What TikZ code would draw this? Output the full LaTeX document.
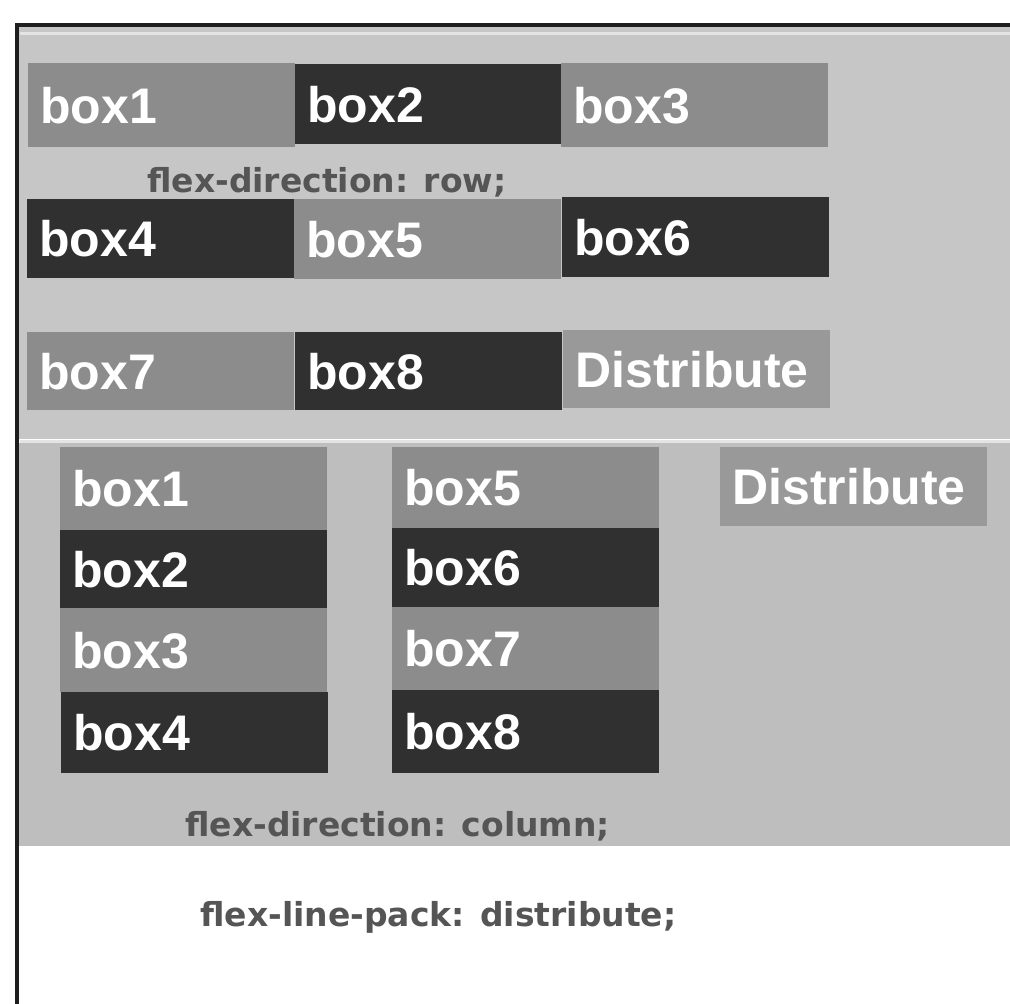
\documentclass[tikz,border=0pt]{standalone}
\usepackage{fontspec}
\setmainfont{Liberation Sans}
\newfontfamily\dvfont{DejaVu Sans}
\definecolor{pagebg}{HTML}{FFFFFF}
\definecolor{panelA}{HTML}{C6C6C6}
\definecolor{panelB}{HTML}{BEBEBE}
\definecolor{midgray}{HTML}{8C8C8C}
\definecolor{lightmid}{HTML}{999999}
\definecolor{darkgray}{HTML}{303030}
\definecolor{framec}{HTML}{1E1E1E}
\definecolor{sepc}{HTML}{E4E4E4}
\definecolor{lblc}{HTML}{555555}
\begin{document}
\begin{tikzpicture}[x=1pt,y=-1pt,
  anybox/.style={anchor=north west, inner xsep=12pt, inner ysep=0pt,
    minimum width=267pt, text width=243pt, align=left,
    text height=36pt, text depth=0pt, text=white,
    font=\fontsize{50}{50}\selectfont\bfseries},
  midbox/.style={anybox, fill=midgray},
  litbox/.style={anybox, fill=lightmid},
  darkbox/.style={anybox, fill=darkgray},
  lbl/.style={anchor=base west, inner sep=0pt, text=lblc,
    font=\dvfont\fontsize{33}{33}\selectfont\bfseries}]
\useasboundingbox (0,0) rectangle (1010,1004);
\fill[pagebg] (0,0) rectangle (1010,1004);
% panels
\fill[panelA] (18,27) rectangle (1010,439);
\fill[panelB] (18,443) rectangle (1010,846);
\draw[sepc, line width=3pt] (20,33) -- (1010,33);
\draw[sepc, line width=3pt] (20,441) -- (1010,441);
% frame
\draw[framec, line width=3.5pt] (17,1004) -- (17,25) -- (1010,25);
% row layout
\node[midbox, minimum height=84pt] (ra1) at (28,63) {box1};
\node[darkbox, minimum height=80pt] (ra2) at (295,64) {box2};
\node[midbox, minimum height=84pt] (ra3) at (561,63) {box3};
\node[lbl] (rowlbl) at (147,192) {flex-direction: row;};
\node[darkbox, minimum height=79pt] (ra4) at (27,199) {box4};
\node[midbox, minimum height=80pt] (ra5) at (294,199) {box5};
\node[darkbox, minimum height=80pt] (ra6) at (562,197) {box6};
\node[midbox, minimum height=78pt] (ra7) at (27,332) {box7};
\node[darkbox, minimum height=78pt] (ra8) at (295,332) {box8};
\node[litbox, minimum height=78pt] (ra9) at (563,330) {Distribute};
% column layout
\node[midbox, minimum height=83pt] (cb1) at (60,447) {box1};
\node[darkbox, minimum height=78pt] (cb2) at (60,530) {box2};
\node[midbox, minimum height=84pt] (cb3) at (60,608) {box3};
\node[darkbox, minimum height=81pt] (cb4) at (61,692) {box4};
\node[midbox, minimum height=81pt] (cb5) at (392,447) {box5};
\node[darkbox, minimum height=79pt] (cb6) at (392,528) {box6};
\node[midbox, minimum height=83pt] (cb7) at (392,607) {box7};
\node[darkbox, minimum height=83pt] (cb8) at (392,690) {box8};
\node[litbox, minimum height=79pt] (cb9) at (720,447) {Distribute};
\node[lbl] (collbl) at (185,836) {flex-direction: column;};
\node[lbl] (packlbl) at (200,926) {flex-line-pack: distribute;};
\end{tikzpicture}
\end{document}
